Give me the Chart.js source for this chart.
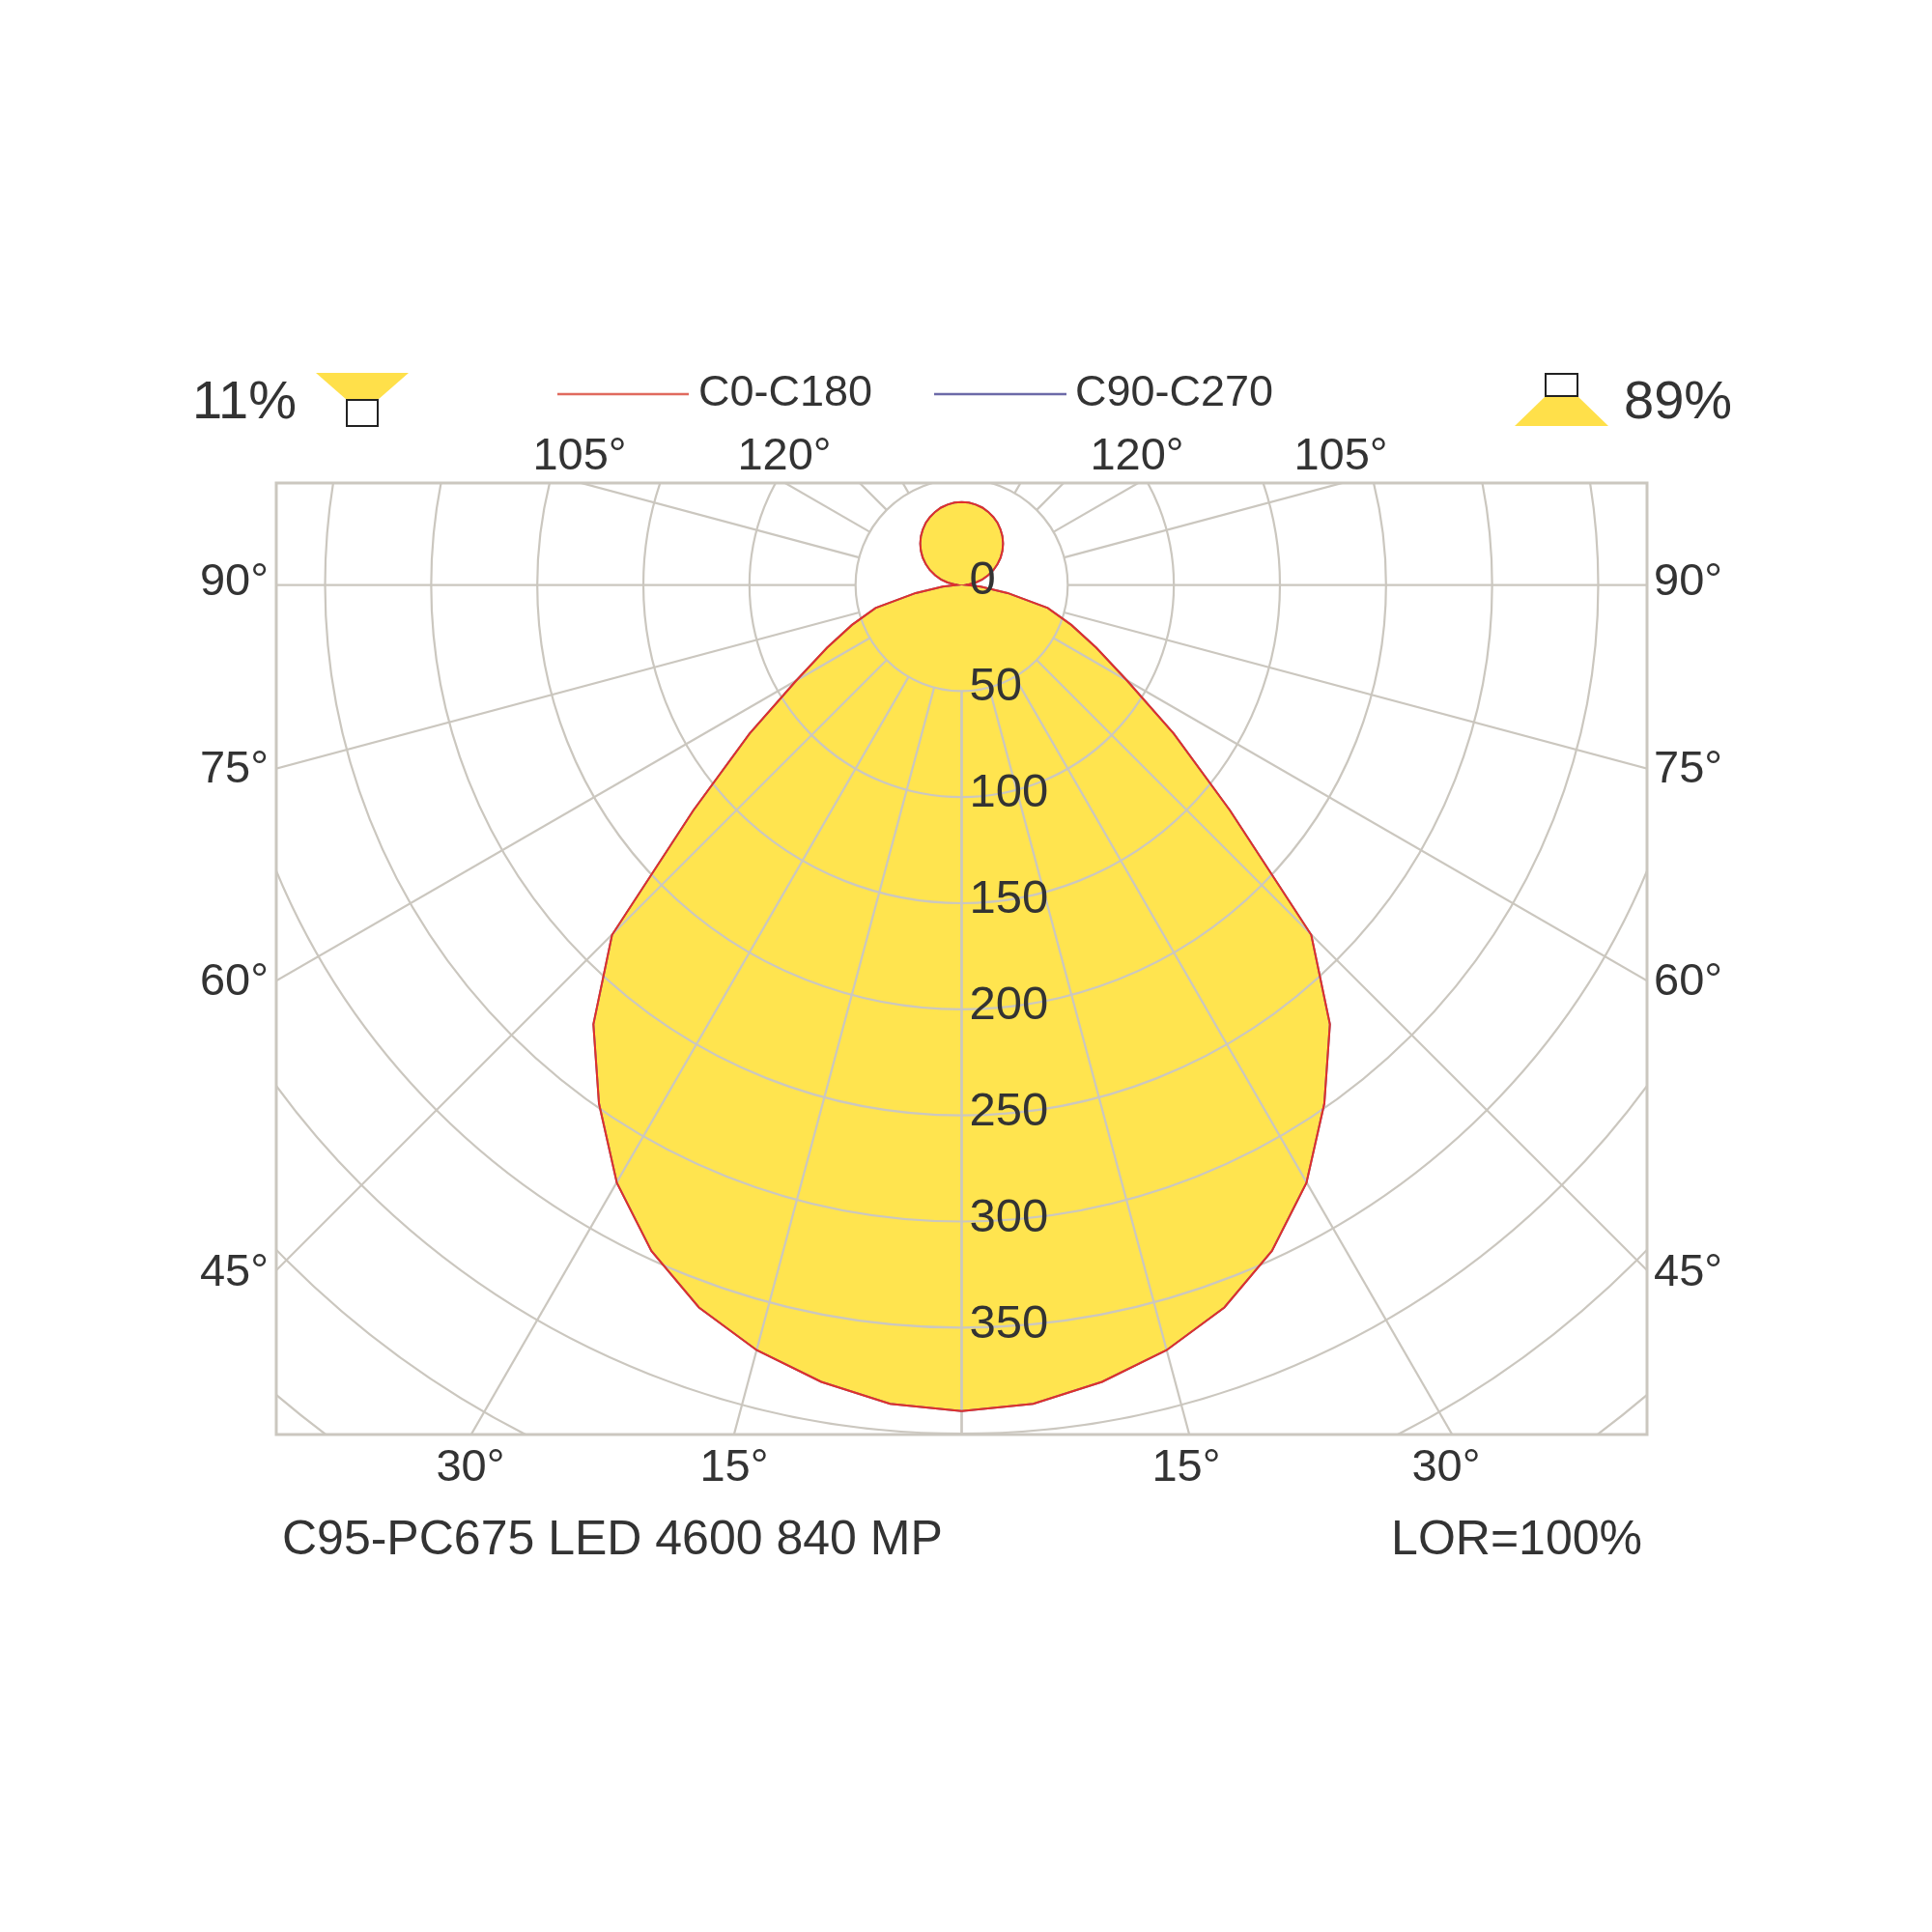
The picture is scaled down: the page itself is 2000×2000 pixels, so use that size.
<!DOCTYPE html>
<html><head><meta charset="utf-8">
<script src="https://cdn.jsdelivr.net/npm/chart.js@4"></script>
<style>html,body{margin:0;padding:0;background:#fff}#w{width:2000px;height:2000px}</style>
</head><body><div id="w"><canvas id="c" width="2000" height="2000"></canvas></div>
<script>
const gammaAngles=[0,5,10,15,20,25,30,35,40,45,50,55,60,65,70,75,80,85,90,95,100,105,110,115,120,125,130,135,140,145,150,155,160,165,170,175,180];
const intensityC0C180=[389,387,381,373,362,346,325,298,270,233,165,122,90,70,55,42,22,9,2,3.4,6.8,10.1,13.3,16.5,19.5,22.4,25.1,27.6,29.9,31.9,33.8,35.3,36.6,37.7,38.4,38.9,39];
const intensityC90C270=intensityC0C180.slice();
const ringValues=[50,100,150,200,250,300,350,400,450,500];
const ringLabels=["0","50","100","150","200","250","300","350"];
const gridAngles=[0,15,30,45,60,75,90,105,120,135,150,165,180];
const yMin=-400,yMax=48,xMax=323;

function toXY(arr){
  const pts=[];
  for(let i=0;i<gammaAngles.length;i++){const t=gammaAngles[i]*Math.PI/180;pts.push({x:arr[i]*Math.sin(t),y:-arr[i]*Math.cos(t)});}
  for(let i=gammaAngles.length-2;i>=0;i--){const t=gammaAngles[i]*Math.PI/180;pts.push({x:-arr[i]*Math.sin(t),y:-arr[i]*Math.cos(t)});}
  return pts;
}
const GRID='#cbc7bf',TXT='#333';
const deco={id:'deco',
 beforeDatasetsDraw(ch){
  const c=ch.ctx,a=ch.chartArea,xs=ch.scales.x,ys=ch.scales.y;
  const cx=xs.getPixelForValue(0),cy=ys.getPixelForValue(0),k=xs.getPixelForValue(1)-cx;
  c.save();c.beginPath();c.rect(a.left,a.top,a.right-a.left,a.bottom-a.top);c.clip();
  // fill of main curve
  const pts=ch.data.datasets[0].data;
  c.fillStyle='#ffe44f';c.beginPath();
  pts.forEach((p,i)=>{const X=xs.getPixelForValue(p.x),Y=ys.getPixelForValue(p.y);i?c.lineTo(X,Y):c.moveTo(X,Y);});
  c.closePath();c.fill();
  c.strokeStyle=GRID;c.lineWidth=2.2;
  ringValues.forEach(r=>{c.beginPath();c.arc(cx,cy,r*k,0,2*Math.PI);c.stroke();});
  gridAngles.forEach(g=>{const t=g*Math.PI/180;[1,-1].forEach(s=>{c.beginPath();c.moveTo(cx+s*50*k*Math.sin(t),cy+50*k*Math.cos(t));c.lineTo(cx+s*900*k*Math.sin(t),cy+900*k*Math.cos(t));c.stroke();});});
  c.restore();
  c.strokeStyle=GRID;c.lineWidth=3;c.strokeRect(a.left,a.top,a.right-a.left,a.bottom-a.top);
 },
 afterDatasetsDraw(ch){
  const c=ch.ctx,xs=ch.scales.x,ys=ch.scales.y;
  const cx=xs.getPixelForValue(0);
  c.save();c.fillStyle=TXT;c.font='49px Arial, "Liberation Sans", sans-serif';c.textBaseline='middle';c.textAlign='left';
  ringLabels.forEach((l,i)=>c.fillText(l,cx+8,ys.getPixelForValue(-i*50)-4));
  c.font='47px "Liberation Sans", Arial, sans-serif';
  c.textAlign='right';[['90°',603],['75°',797],['60°',1017],['45°',1318]].forEach(([t,y])=>c.fillText(t,278,y));
  c.textAlign='left';[['90°',603],['75°',797],['60°',1017],['45°',1318]].forEach(([t,y])=>c.fillText(t,1712,y));
  c.textAlign='center';
  [['30°',487],['15°',760],['15°',1228],['30°',1497]].forEach(([t,x])=>c.fillText(t,x,1520));
  [['105°',600],['120°',812],['120°',1177],['105°',1388]].forEach(([t,x])=>c.fillText(t,x,473));
  c.font='50px "Liberation Sans", Arial, sans-serif';
  c.textAlign='left';c.fillText('C95-PC675 LED 4600 840 MP',292,1595);
  c.textAlign='right';c.fillText('LOR=100%',1700,1595);
  c.font='45px "Liberation Sans", Arial, sans-serif';
  c.textAlign='left';c.fillText('C0-C180',723,408);c.fillText('C90-C270',1113,408);
  c.font='56px "Liberation Sans", Arial, sans-serif';
  c.fillText('11%',199,418);c.fillText('89%',1681,418);
  c.lineWidth=2.5;
  c.strokeStyle='#e06a5e';c.beginPath();c.moveTo(577,408);c.lineTo(713,408);c.stroke();
  c.strokeStyle='#6c6aa8';c.beginPath();c.moveTo(967,408);c.lineTo(1104,408);c.stroke();
  c.fillStyle='#ffe04a';
  c.beginPath();c.moveTo(327,386);c.lineTo(423,386);c.lineTo(391,414);c.lineTo(359,414);c.closePath();c.fill();
  c.beginPath();c.moveTo(1600,410);c.lineTo(1633,410);c.lineTo(1665,441);c.lineTo(1568,441);c.closePath();c.fill();
  c.strokeStyle='#222';c.lineWidth=2;c.fillStyle='#fff';
  c.fillRect(359,414,32,27);c.strokeRect(359,414,32,27);
  c.fillRect(1600,387,33,23);c.strokeRect(1600,387,33,23);
  c.restore();
 }};
new Chart(document.getElementById('c'),{
 type:'scatter',
 data:{datasets:[
  {label:'C0-C180',data:toXY(intensityC0C180),showLine:true,borderColor:'#e0302a',borderWidth:2,pointRadius:0,fill:false},
  {label:'C90-C270',data:toXY(intensityC90C270),showLine:true,borderColor:'#6c6aa8',borderWidth:2,pointRadius:0,fill:false}
 ]},
 options:{responsive:false,animation:false,
  layout:{padding:{left:286,right:295,top:500,bottom:515}},
  plugins:{legend:{display:false},tooltip:{enabled:false}},
  scales:{x:{type:'linear',min:-xMax,max:xMax,display:false},y:{type:'linear',min:yMin,max:yMax,display:false}}},
 plugins:[deco]
});
</script></body></html>
